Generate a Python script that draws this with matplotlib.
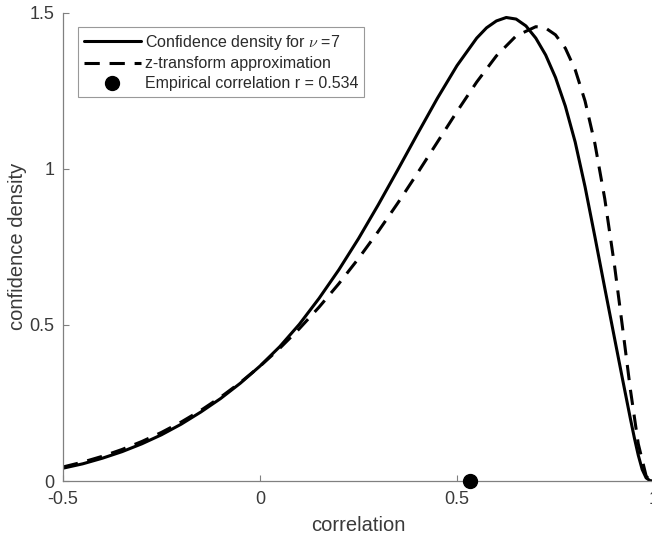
import matplotlib
matplotlib.use("Agg")
import matplotlib.pyplot as plt

plt.rcParams['font.family'] = ['Liberation Sans', 'DejaVu Sans']
plt.rcParams['mathtext.fontset'] = 'cm'
plt.rcParams['axes.unicode_minus'] = False

# ---- data ----
rho_exact = [-0.5, -0.45, -0.4, -0.35, -0.3, -0.25, -0.2, -0.15, -0.1, -0.05,
             0.0, 0.05, 0.1, 0.15, 0.2, 0.25, 0.3, 0.35, 0.4, 0.45, 0.5, 0.55,
             0.575, 0.6, 0.625, 0.65, 0.675, 0.7, 0.725, 0.75, 0.775, 0.8,
             0.825, 0.85, 0.875, 0.9, 0.92, 0.94, 0.95, 0.96, 0.97, 0.98, 0.99, 1.0]
dens_exact = [0.041, 0.055, 0.073, 0.094, 0.119, 0.148, 0.182, 0.221, 0.264, 0.313,
              0.368, 0.430, 0.502, 0.585, 0.676, 0.776, 0.884, 0.997, 1.112, 1.225,
              1.330, 1.418, 1.451, 1.473, 1.484, 1.479, 1.457, 1.418, 1.364, 1.292,
              1.200, 1.085, 0.942, 0.782, 0.618, 0.456, 0.327, 0.200, 0.139, 0.083,
              0.037, 0.010, 0.001, 0.0]

rho_z = [-0.5, -0.45, -0.4, -0.35, -0.3, -0.25, -0.2, -0.15, -0.1, -0.05,
         0.0, 0.05, 0.1, 0.15, 0.2, 0.25, 0.3, 0.35, 0.4, 0.45, 0.5, 0.55,
         0.6, 0.65, 0.7, 0.725, 0.75, 0.775, 0.8, 0.825, 0.85, 0.875, 0.9,
         0.92, 0.94, 0.96, 0.98, 0.99, 1.0]
dens_z = [0.0449, 0.0605, 0.0791, 0.1010, 0.1264, 0.1556, 0.1888, 0.2263, 0.2684, 0.3153,
          0.3674, 0.4248, 0.4879, 0.5568, 0.6316, 0.7124, 0.7988, 0.8904, 0.9862, 1.0846,
          1.1830, 1.2773, 1.3611, 1.4250, 1.4546, 1.4501, 1.4285, 1.3856, 1.3167, 1.2166,
          1.0803, 0.9039, 0.6880, 0.4928, 0.2934, 0.1193, 0.0161, 0.0012, 0.0]

r_emp = 0.534
nu = 7

xticks = [-0.5, 0, 0.5, 1]
xticklabels = ['-0.5', '0', '0.5', '1']
yticks = [0, 0.5, 1, 1.5]
yticklabels = ['0', '0.5', '1', '1.5']

# ---- figure ----
fig = plt.figure(figsize=(6.52, 5.4), dpi=100)
ax = fig.add_axes([63/652, 59/540, 591/652, 468.5/540])

ax.plot(rho_exact, dens_exact, color='black', lw=2.2, solid_capstyle='round',
        solid_joinstyle='round',
        label=r'Confidence density for $\nu$ =%d' % nu)
ax.plot(rho_z, dens_z, color='black', lw=2.2, linestyle=(0, (5, 3.2)),
        label='z-transform approximation')
ax.plot([r_emp], [0], 'o', color='black', markersize=10, clip_on=False, zorder=5,
        label='Empirical correlation r = %.3f' % r_emp)

ax.set_xlim(-0.5, 1)
ax.set_ylim(0, 1.5)
ax.set_xticks(xticks)
ax.set_xticklabels(xticklabels)
ax.set_yticks(yticks)
ax.set_yticklabels(yticklabels)

grey = '#808080'
for s in ['top', 'right']:
    ax.spines[s].set_visible(False)
for s in ['left', 'bottom']:
    ax.spines[s].set_color(grey)
    ax.spines[s].set_linewidth(0.9)
ax.tick_params(direction='in', length=4, width=0.8, color=grey,
               labelsize=13, labelcolor='#3a3a3a')
ax.tick_params(axis='x', pad=7)
ax.tick_params(axis='y', pad=6)

ax.set_xlabel('correlation', fontsize=14.5, color='#3a3a3a', labelpad=6)
ax.set_ylabel('confidence density', fontsize=14.5, color='#3a3a3a', labelpad=2)

leg = ax.legend(loc='upper left', bbox_to_anchor=(15/591, 1 - 14.5/468.5),
                borderaxespad=0, fontsize=11.5, handlelength=3.6,
                handletextpad=0.25, borderpad=0.35, labelspacing=0.3,
                fancybox=False, framealpha=1, edgecolor='#999999')
leg.get_frame().set_linewidth(0.8)
for t in leg.get_texts():
    t.set_color('#2a2a2a')

fig.savefig('out.png', dpi=100)
